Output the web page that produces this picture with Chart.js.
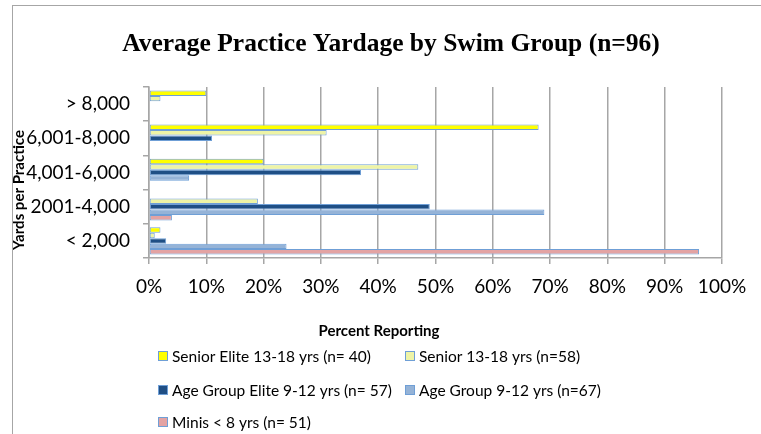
<!DOCTYPE html>
<html>
<head>
<meta charset="utf-8">
<script src="https://cdn.jsdelivr.net/npm/chart.js@4.4.1/dist/chart.umd.min.js"></script>
<style>
  html, body { margin: 0; padding: 0; background: #fff; }
  #wrap { width: 761px; height: 434px; }
</style>
</head>
<body>
<div id="wrap"><canvas id="yardageChart" width="761" height="434"></canvas></div>
<script>
// Yardage buckets, top to bottom as in the picture
const categories = ['> 8,000', '6,001-8,000', '4,001-6,000', '2001-4,000', '< 2,000'];

// Percent reporting per swim group
const seniorElite = [10, 68, 20, 0, 2];
const senior = [2, 31, 47, 19, 1];
const ageGroupElite = [0, 11, 37, 49, 3];
const ageGroup = [0, 0, 7, 69, 24];
const minis = [0, 0, 0, 4, 96];

const seriesNames = [
    'Senior Elite 13-18 yrs (n= 40)',
    'Senior 13-18 yrs (n=58)',
    'Age Group Elite 9-12 yrs (n= 57)',
    'Age Group 9-12 yrs (n=67)',
    'Minis < 8 yrs (n= 51)'
];
const seriesColors = ['#ffff00', '#eef4a6', '#1f4f85', '#95b3d7', '#e3a3a3'];
const barBorder = '#6f9fd6';
const gridGray = '#a6a6a6';

const chartTitle = 'Average Practice Yardage by Swim Group (n=96)';
const xTitle = 'Percent Reporting';
const yTitle = 'Yards per Practice';

const seriesValues = [seniorElite, senior, ageGroupElite, ageGroup, minis];

// Text, border and the two-column legend drawn by hand
const decorPlugin = {
    id: 'decor',
    beforeDraw(chart) {
        const ctx = chart.ctx;
        ctx.save();
        ctx.fillStyle = '#fff';
        ctx.fillRect(0, 0, chart.width, chart.height);
        ctx.strokeStyle = '#a6a6a6';
        ctx.lineWidth = 1;
        ctx.strokeRect(12.5, 5.5, 900, 600);
        ctx.restore();
    },
    afterDraw(chart) {
        const ctx = chart.ctx;
        ctx.save();
        ctx.fillStyle = '#000';
        ctx.textBaseline = 'middle';

        // chart title
        ctx.font = 'bold 25.5px "Liberation Serif"';
        ctx.textAlign = 'center';
        ctx.fillText(chartTitle, 391, 44);

        // axis titles
        ctx.font = 'bold 15px Lato';
        ctx.fillText(xTitle, 379, 331);
        ctx.save();
        ctx.translate(19, 190);
        ctx.rotate(-Math.PI / 2);
        ctx.fillText(yTitle, 0, 0);
        ctx.restore();

        // legend
        const colX = [158, 405];
        const rowY = [356, 390, 422];
        ctx.font = '15.5px Lato';
        ctx.textAlign = 'left';
        chart.data.datasets.forEach((ds, i) => {
            const x = colX[i % 2];
            const y = rowY[Math.floor(i / 2)];
            ctx.fillStyle = ds.backgroundColor;
            ctx.fillRect(x, y - 5, 10, 10);
            ctx.strokeStyle = barBorder;
            ctx.lineWidth = 1;
            ctx.strokeRect(x + 0.5, y - 4.5, 9, 9);
            ctx.fillStyle = '#000';
            ctx.fillText(ds.label, x + 14, y + 1);
        });
        ctx.restore();
    }
};

const ctx = document.getElementById('yardageChart').getContext('2d');
new Chart(ctx, {
    type: 'bar',
    data: {
        labels: categories,
        datasets: seriesValues.map((values, i) => ({
            label: seriesNames[i],
            data: values,
            backgroundColor: seriesColors[i],
            borderColor: barBorder,
            borderWidth: 1,
            borderSkipped: false,
            categoryPercentage: 0.8,
            barPercentage: 1.0
        }))
    },
    options: {
        indexAxis: 'y',
        responsive: false,
        animation: false,
        layout: {
            padding: { left: 12, top: 87, right: 39, bottom: 136 }
        },
        scales: {
            x: {
                min: 0,
                max: 100,
                ticks: {
                    stepSize: 10,
                    callback: value => value + '%',
                    color: '#000',
                    font: { family: 'Lato', size: 19 },
                    padding: 11,
                    maxRotation: 0
                },
                grid: { color: gridGray, lineWidth: 1.5, tickLength: 6 },
                border: { color: gridGray, width: 1.5 },
                afterFit: scale => { scale.height = 40; }
            },
            y: {
                ticks: {
                    color: '#000',
                    font: { family: 'Lato', size: 19 },
                    padding: 13
                },
                grid: { drawOnChartArea: false, color: gridGray, lineWidth: 1.5, tickLength: 6 },
                border: { color: gridGray, width: 1.5 },
                afterFit: scale => { scale.width = 137; }
            }
        },
        plugins: {
            legend: { display: false },
            title: { display: false },
            tooltip: { enabled: false }
        }
    },
    plugins: [decorPlugin]
});
</script>
</body>
</html>
